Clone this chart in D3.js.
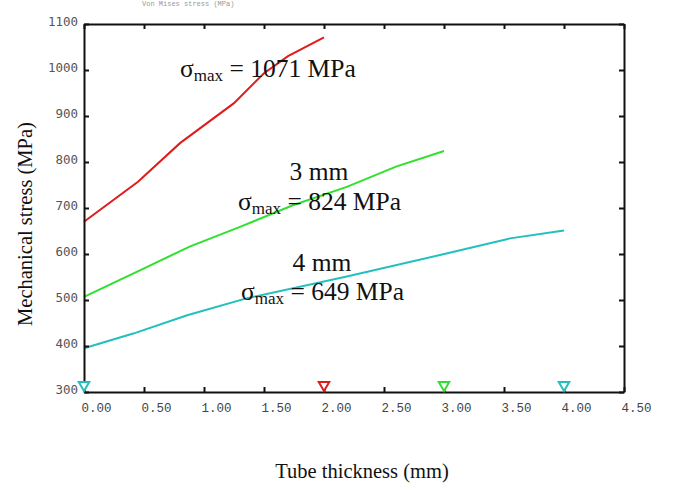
<!DOCTYPE html>
<html lang="en">
<head>
  <meta charset="UTF-8">
  <title>Mechanical stress vs tube thickness</title>
  <script src="https://d3js.org/d3.v7.min.js"></script>
  <style>
    body {
      margin: 0;
      background: white;
    }
    .tick-y text {
      font-family: 'DejaVu Sans Mono', monospace;
      font-size: 12.5px;
      fill: #555;
    }
    .tick-x text {
      font-family: 'Liberation Mono', 'Courier New', monospace;
      font-size: 12.5px;
      fill: #444;
    }
    .serif {
      font-family: 'Liberation Serif', 'Times New Roman', serif;
      fill: #111;
    }
  </style>
</head>
<body>
  <script>
    // Data
    const thick2 = [0, 0.45, 0.8, 1.25, 1.5, 1.7, 2.0];
    const stress2 = [670, 757, 841, 928, 993, 1030, 1071];

    const thick3 = [0, 0.47, 0.88, 1.3, 1.74, 2.19, 2.6, 3.0];
    const stress3 = [507, 565, 616, 659, 706, 746, 790, 824];

    const thick4 = [0, 0.41, 0.86, 1.36, 2.19, 3.02, 3.55, 4.0];
    const stress4 = [395, 427, 467, 504, 551, 601, 634, 651];

    const markerThick = [0, 2, 3, 4];
    const markerColor = ["#22bfbf", "#e01b1b", "#2fe02f", "#22bfbf"];

    const xTicks = [0, 0.5, 1, 1.5, 2, 2.5, 3, 3.5, 4, 4.5];
    const yTicks = [300, 400, 500, 600, 700, 800, 900, 1000, 1100];

    const width = 674, height = 494;
    const margin = { left: 84, right: 50, top: 24, bottom: 102 };

    const svg = d3.select("body").append("svg")
      .attr("width", width)
      .attr("height", height);

    const x = d3.scaleLinear().domain([0, 4.5]).range([margin.left, width - margin.right]);
    const y = d3.scaleLinear().domain([300, 1100]).range([height - margin.bottom, margin.top]);

    // faint title at the very top
    svg.append("text")
      .attr("x", 142).attr("y", 6)
      .style("font-family", "'Liberation Mono', monospace")
      .style("font-size", "7px")
      .style("fill", "#999")
      .text("Von Mises stress (MPa)");

    // lines
    const line = d3.line().x(d => x(d[0])).y(d => y(d[1]));
    const series = [
      { pts: d3.zip(thick2, stress2), color: "#e01b1b" },
      { pts: d3.zip(thick3, stress3), color: "#2fe02f" },
      { pts: d3.zip(thick4, stress4), color: "#22bfbf" }
    ];
    svg.selectAll(".curve")
      .data(series)
      .enter().append("path")
      .attr("class", "curve")
      .attr("d", d => line(d.pts))
      .attr("fill", "none")
      .attr("stroke", d => d.color)
      .attr("stroke-width", 2);

    // axes
    const axisStyle = g => {
      g.select(".domain").attr("stroke", "#111").attr("stroke-width", 2);
      g.selectAll(".tick line").attr("stroke", "#111").attr("stroke-width", 2);
    };

    const gx = svg.append("g").attr("class", "tick-x")
      .attr("transform", `translate(0,${y(300)})`)
      .call(d3.axisBottom(x).tickValues(xTicks).tickFormat(d3.format(".2f"))
        .tickSizeInner(-5).tickSizeOuter(0))
      .call(axisStyle);
    gx.selectAll("text")
      .attr("y", 20).attr("dy", 0).attr("x", -3)
      .attr("text-anchor", "start")
      .attr("font-family", null).attr("font-size", null).attr("fill", null);

    svg.append("g")
      .attr("transform", `translate(0,${y(1100)})`)
      .call(d3.axisTop(x).tickValues(xTicks).tickFormat("")
        .tickSizeInner(-5).tickSizeOuter(0))
      .call(axisStyle);

    const gy = svg.append("g").attr("class", "tick-y")
      .attr("transform", `translate(${x(0)},0)`)
      .call(d3.axisLeft(y).tickValues(yTicks).tickFormat(d3.format("d"))
        .tickSizeInner(-5).tickSizeOuter(0))
      .call(axisStyle);
    gy.selectAll("text")
      .attr("x", -6).attr("dy", 1)
      .attr("text-anchor", "end")
      .attr("font-family", null).attr("font-size", null).attr("fill", null);

    svg.append("g")
      .attr("transform", `translate(${x(4.5)},0)`)
      .call(d3.axisRight(y).tickValues(yTicks).tickFormat("")
        .tickSizeInner(-5).tickSizeOuter(0))
      .call(axisStyle);

    // open triangle markers at the bottom axis
    const tri = d3.symbol().type(d3.symbolTriangle).size(48);
    svg.selectAll(".marker")
      .data(markerThick)
      .enter().append("path")
      .attr("class", "marker")
      .attr("d", tri)
      .attr("transform", d => `translate(${x(d)},${y(300) - 7}) rotate(180)`)
      .attr("fill", "white")
      .attr("stroke", (d, i) => markerColor[i])
      .attr("stroke-width", 2);

    // annotations
    function sigmaLabel(px, py, rest) {
      const t = svg.append("text").attr("class", "serif")
        .attr("x", px).attr("y", py).style("font-size", "25.5px");
      t.append("tspan").text("σ");
      t.append("tspan").attr("dy", 4).style("font-size", "17px").text("max");
      t.append("tspan").attr("dy", -4).text(" = " + rest);
    }
    sigmaLabel(180, 77, "1071 MPa");
    svg.append("text").attr("class", "serif")
      .attr("x", 319).attr("y", 180).attr("text-anchor", "middle")
      .style("font-size", "25.5px").text("3 mm");
    sigmaLabel(238, 210, "824 MPa");
    svg.append("text").attr("class", "serif")
      .attr("x", 322).attr("y", 271).attr("text-anchor", "middle")
      .style("font-size", "25.5px").text("4 mm");
    sigmaLabel(241, 300, "649 MPa");

    // axis titles
    svg.append("text").attr("class", "serif")
      .attr("transform", "translate(32,224) rotate(-90)")
      .attr("text-anchor", "middle")
      .style("font-size", "20.5px")
      .text("Mechanical stress (MPa)");

    svg.append("text").attr("class", "serif")
      .attr("x", 362).attr("y", 478)
      .attr("text-anchor", "middle")
      .style("font-size", "20.5px")
      .text("Tube thickness (mm)");
  </script>
</body>
</html>
